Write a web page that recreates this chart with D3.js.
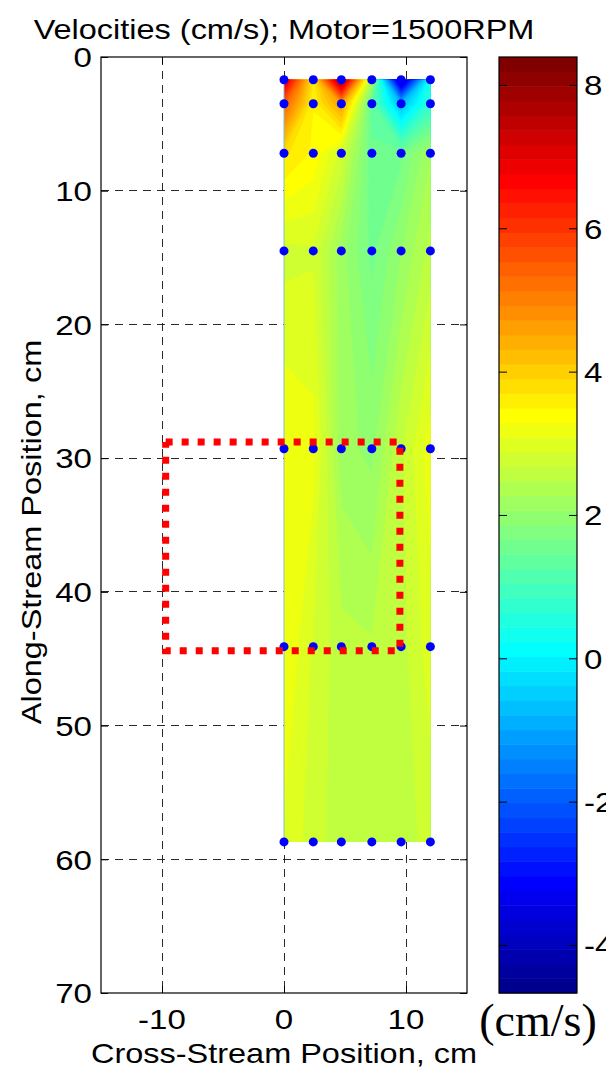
<!DOCTYPE html>
<html>
<head>
<meta charset="utf-8">
<script src="https://cdn.jsdelivr.net/npm/d3@7"></script>
<style>
  html, body { margin: 0; padding: 0; background: #fff; }
  svg { display: block; }
  text { font-family: "Liberation Sans", Arial, sans-serif; fill: #000; }
</style>
</head>
<body>
<svg id="chart" width="606" height="1075"></svg>
<script>
// Measurement stations: cross-stream (x, cm) and along-stream (y, cm)
const crossStream = [0, 2.4, 4.7, 7.2, 9.6, 12];
const alongStream = [1.7, 3.5, 7.2, 14.5, 29.3, 44.1, 58.7];

// Measured velocity (cm/s), one row per along-stream station
const velocityRows = [
  [7.3, 3.6, 8.0, 2.3, -4.4, 0.4],
  [5.45, 3.5, 4.6, 1.35, -0.75, 0.75],
  [3.75, 3.45, 2.8, 1.5, 1.6, 2.25],
  [2.8, 2.85, 2.15, 1.59, 2.05, 2.55],
  [3.3, 3.17, 2.15, 2.0, 2.65, 3.2],
  [3.3, 2.85, 2.55, 2.5, 2.58, 3.0],
  [3.05, 2.78, 2.55, 2.55, 2.58, 2.75]
];

// Colour limits and tick labels
const colorLimits = [-4.67, 8.39];
const colorTicks = [-4, -2, 0, 2, 4, 6, 8];
const xTicks = [-10, 0, 10];
const yTicks = [0, 10, 20, 30, 40, 50, 60, 70];
const xDomain = [-15, 15];
const yDomain = [0, 70];

// Highlighted region (cm)
const boxX = [-9.7, 9.5];
const boxY = [28.8, 44.4];

const titleText = "Velocities (cm/s); Motor=1500RPM";
const xLabelText = "Cross-Stream Position, cm";
const yLabelText = "Along-Stream Position, cm";
const unitText = "(cm/s)";

// ---- jet colormap (64 steps) ----
function jet(m) {
  const n = Math.ceil(m / 4);
  const u = [];
  for (let i = 1; i <= n; i++) u.push(i / n);
  for (let i = 1; i < n; i++) u.push(1);
  for (let i = n; i >= 1; i--) u.push(i / n);
  const off = Math.ceil(n / 2) - (m % 4 === 1 ? 1 : 0);
  const J = Array.from({ length: m }, () => [0, 0, 0]);
  u.forEach((v, k) => {
    const g = off + k + 1, r = g + n, b = g - n;
    if (g >= 1 && g <= m) J[g - 1][1] = v;
    if (r >= 1 && r <= m) J[r - 1][0] = v;
    if (b >= 1 && b <= m) J[b - 1][2] = v;
  });
  return J.map(c => d3.rgb(c[0] * 255, c[1] * 255, c[2] * 255).formatHex());
}
const nColors = 64;
const cmap = jet(nColors);

const svg = d3.select("#chart");

const plot = { left: 101, right: 467, top: 57, bottom: 993 };
const bar = { left: 499, right: 577 };
const stretch = 1.16;   // the label face is set wide

const x = d3.scaleLinear().domain(xDomain).range([plot.left, plot.right]);
const y = d3.scaleLinear().domain(yDomain).range([plot.top, plot.bottom]);
const c = d3.scaleLinear().domain(colorLimits).range([plot.bottom, plot.top]);

// wide label helper: text drawn at (px, py), optionally rotated
function label(g, px, py, str, size, anchor, rot) {
  return g.append("text")
    .attr("transform", `translate(${px},${py})${rot ? ` rotate(${rot})` : ""} scale(${stretch},1)`)
    .attr("text-anchor", anchor).attr("font-size", size).text(str);
}

// ---- grid (behind the field) ----
const grid = svg.append("g").attr("stroke", "#2a2a2a").attr("stroke-width", 1)
  .attr("stroke-dasharray", "8,6").attr("shape-rendering", "crispEdges");
grid.selectAll(".gx").data(xTicks).join("line")
  .attr("x1", d => x(d)).attr("x2", d => x(d))
  .attr("y1", plot.top).attr("y2", plot.bottom);
grid.selectAll(".gy").data(yTicks.slice(1, -1)).join("line")
  .attr("y1", d => y(d)).attr("y2", d => y(d))
  .attr("x1", plot.left).attr("x2", plot.right);

// ---- filled contours ----
const nx = crossStream.length, ny = alongStream.length;
const flat = velocityRows.flat();
const step = (colorLimits[1] - colorLimits[0]) / nColors;
const levels = d3.range(nColors).map(k => colorLimits[0] + k * step);
const contours = d3.contours().size([nx, ny]).thresholds(levels)(flat);

// grid-cell coordinates -> data coordinates (sample i sits at i + 0.5)
const gx = d3.scaleLinear().domain(d3.range(nx).map(i => i + 0.5)).range(crossStream);
const gy = d3.scaleLinear().domain(d3.range(ny).map(i => i + 0.5)).range(alongStream);
const toScreen = d3.geoTransform({
  point(px, py) { this.stream.point(x(gx(px)), y(gy(py))); }
});
const path = d3.geoPath(toScreen);

const x0 = x(crossStream[0]), x1 = x(crossStream[nx - 1]);
const y0 = y(alongStream[0]), y1 = y(alongStream[ny - 1]);
svg.append("clipPath").attr("id", "field-clip")
  .append("rect").attr("x", x0).attr("y", y0)
  .attr("width", x1 - x0).attr("height", y1 - y0);

const field = svg.append("g").attr("clip-path", "url(#field-clip)");
field.selectAll("path").data(contours).join("path")
  .attr("d", path)
  .attr("fill", (d, i) => cmap[i])
  .attr("stroke", (d, i) => cmap[i])
  .attr("stroke-width", 0.4);

// thin edge along the left side of the field
svg.append("line").attr("x1", x0).attr("x2", x0).attr("y1", y0).attr("y2", y1)
  .attr("stroke", "#7fc4c4").attr("stroke-width", 1);

// ---- measurement points ----
const pts = [];
alongStream.forEach(yy => crossStream.forEach(xx => pts.push([xx, yy])));
svg.append("g").selectAll("circle").data(pts).join("circle")
  .attr("cx", d => x(d[0])).attr("cy", d => y(d[1])).attr("r", 4.5)
  .attr("fill", "#0000ff");

// ---- highlighted region ----
svg.append("path")
  .attr("d", d3.line()([[x(boxX[0]), y(boxY[0])], [x(boxX[1]), y(boxY[0])],
                         [x(boxX[1]), y(boxY[1])], [x(boxX[0]), y(boxY[1])],
                         [x(boxX[0]), y(boxY[0])]]))
  .attr("fill", "none").attr("stroke", "#ff0000").attr("stroke-width", 7)
  .attr("stroke-dasharray", "7,9");

// ---- axes (tick marks from d3 axes, labels set separately) ----
const tickLen = 7;
function styleAxis(g) {
  g.select(".domain").remove();
  g.selectAll(".tick line").attr("stroke", "#000");
  g.selectAll(".tick text").remove();
}
svg.append("g").attr("transform", `translate(0,${plot.bottom})`)
  .call(d3.axisBottom(x).tickValues(xTicks).tickSizeInner(-tickLen).tickSizeOuter(0))
  .call(styleAxis);
svg.append("g").attr("transform", `translate(0,${plot.top})`)
  .call(d3.axisTop(x).tickValues(xTicks).tickSizeInner(-tickLen).tickSizeOuter(0))
  .call(styleAxis);
svg.append("g").attr("transform", `translate(${plot.left},0)`)
  .call(d3.axisLeft(y).tickValues(yTicks).tickSizeInner(-tickLen).tickSizeOuter(0))
  .call(styleAxis);
svg.append("g").attr("transform", `translate(${plot.right},0)`)
  .call(d3.axisRight(y).tickValues(yTicks).tickSizeInner(-tickLen).tickSizeOuter(0))
  .call(styleAxis);
svg.append("rect").attr("x", plot.left).attr("y", plot.top)
  .attr("width", plot.right - plot.left).attr("height", plot.bottom - plot.top)
  .attr("fill", "none").attr("stroke", "#000").attr("stroke-width", 1.2);

const tickFs = 28.5;
const labels = svg.append("g");
xTicks.forEach(v => label(labels, x(v), plot.bottom + 36, String(v), tickFs, "middle"));
yTicks.forEach(v => label(labels, 92, y(v) + tickFs * 0.36, String(v), tickFs, "end"));

// ---- colour bar ----
const cb = svg.append("g");
cb.selectAll("rect").data(cmap).join("rect")
  .attr("x", bar.left).attr("width", bar.right - bar.left)
  .attr("y", (d, i) => c(colorLimits[0] + (i + 1) * step))
  .attr("height", (d, i) => c(colorLimits[0] + i * step) - c(colorLimits[0] + (i + 1) * step) + 0.5)
  .attr("fill", d => d);
svg.append("g").attr("transform", `translate(${bar.right},0)`)
  .call(d3.axisRight(c).tickValues(colorTicks).tickSizeInner(-8).tickSizeOuter(0))
  .call(styleAxis);
svg.append("g").attr("transform", `translate(${bar.left},0)`)
  .call(d3.axisLeft(c).tickValues(colorTicks).tickSizeInner(-8).tickSizeOuter(0))
  .call(styleAxis);
svg.append("rect").attr("x", bar.left).attr("y", plot.top)
  .attr("width", bar.right - bar.left).attr("height", plot.bottom - plot.top)
  .attr("fill", "none").attr("stroke", "#000").attr("stroke-width", 1.2);
colorTicks.forEach(v => label(labels, 584, c(v) + tickFs * 0.36, String(v), tickFs, "start"));

// ---- titles ----
label(svg, (plot.left + plot.right) / 2, 39, titleText, 28, "middle");
label(svg, (plot.left + plot.right) / 2, 1063, xLabelText, 28, "middle");
label(svg, 41, 532, yLabelText, 28, "middle", -90);
svg.append("text").attr("x", 538).attr("y", 1036)
  .attr("text-anchor", "middle").attr("font-size", 46)
  .style("font-family", "'Liberation Serif', 'Times New Roman', serif").text(unitText);
</script>
</body>
</html>
